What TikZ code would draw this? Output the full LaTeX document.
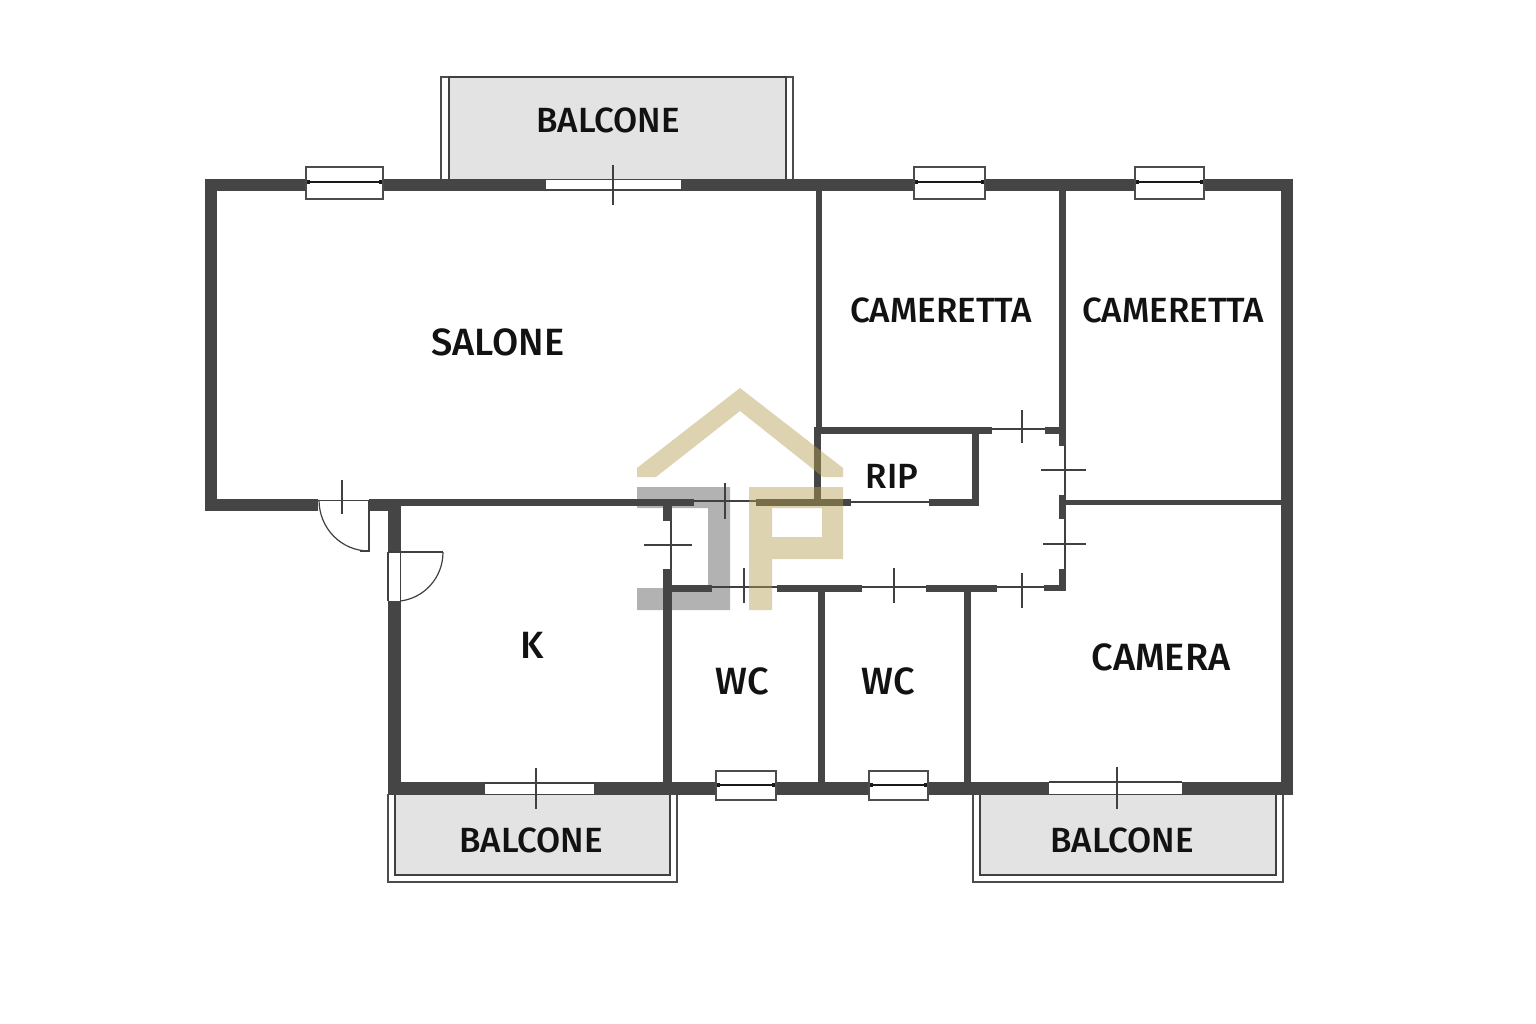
\documentclass[tikz,border=0pt]{standalone}
\usepackage{fontspec}
\setmainfont{Fira Sans Medium}
\usetikzlibrary{arrows.meta}

\begin{document}
\begin{tikzpicture}[x=1pt,y=-1pt]
\tikzstyle{wall}=[fill=black!73]
\tikzstyle{gap}=[fill=white]
\tikzstyle{thin}=[draw=black!75, line width=1.2pt]
\tikzstyle{tick}=[draw=black!75, line width=1.6pt]
\tikzstyle{frame}=[draw=black!70, fill=white, line width=1.3pt]
\tikzstyle{pane}=[draw=black!90, line width=1.2pt, {Square[length=3pt,width=4pt]}-{Square[length=3pt,width=4pt]}]
\tikzstyle{deck}=[fill=black!11, draw=black!75, line width=1.4pt]
\tikzstyle{rail}=[fill=white, draw=black!70, line width=1.2pt]
\tikzstyle{room}=[text=black!93, font=\fontsize{35}{40}\selectfont, inner sep=0pt]
\tikzstyle{big}=[room, font=\fontsize{38}{40}\selectfont]
\tikzstyle{tan}=[fill={rgb,255:red,180;green,158;blue,80}, fill opacity=.45]

\useasboundingbox (0,0) rectangle (1536,1024);
\fill[white] (0,0) rectangle (1536,1024);

% balconies
\draw[rail] (441,179) -- (441,77) -- (793,77) -- (793,179);
\draw[deck] (449,179) -- (449,77) -- (786,77) -- (786,179);
\draw[rail] (388,794) -- (388,882) -- (677,882) -- (677,794);
\draw[deck] (395,794) -- (395,875) -- (670,875) -- (670,794);
\draw[rail] (973,794) -- (973,882) -- (1283,882) -- (1283,794);
\draw[deck] (980,794) -- (980,875) -- (1276,875) -- (1276,794);

% logo, grey part
\fill[black!30] (637,487) -- (730,487) -- (730,610) -- (637,610) -- (637,588) -- (708,588) -- (708,508) -- (637,508) -- cycle;

% outer walls
\fill[wall] (205,179) rectangle (1293,191);
\fill[wall] (205,179) rectangle (217,511);
\fill[wall] (1281,179) rectangle (1293,795);
\fill[wall] (388,782) rectangle (1293,795);
\fill[wall] (205,499) rectangle (318,511);
\fill[wall] (369,499) rectangle (401,511);
\fill[wall] (388,499) rectangle (401,552);
\fill[wall] (388,601) rectangle (401,795);

% inner walls
\fill[wall] (401,499) rectangle (694,506);
\fill[wall] (663,499) rectangle (672,521);
\fill[wall] (663,569) rectangle (672,782);
\fill[wall] (663,585) rectangle (712,592);
\fill[wall] (777,585) rectangle (862,592);
\fill[wall] (818,585) rectangle (825,782);
\fill[wall] (926,585) rectangle (997,592);
\fill[wall] (964,585) rectangle (971,782);
\fill[wall] (1044,585) rectangle (1066,591);
\fill[wall] (1059,569) rectangle (1066,591);
\fill[wall] (1059,495) rectangle (1066,519);
\fill[wall] (1059,500) rectangle (1281,505);
\fill[wall] (1059,191) rectangle (1066,446);
\fill[wall] (1045,427) rectangle (1066,434);
\fill[wall] (816,191) rectangle (822,427);
\fill[wall] (814,427) rectangle (992,434);
\fill[wall] (814,427) rectangle (821,506);
\fill[wall] (972,427) rectangle (979,506);
\fill[wall] (756,499) rectangle (851,506);
\fill[wall] (929,499) rectangle (979,506);

% thin lines in the door openings
\draw[thin] (992,429) -- (1045,429);
\draw[thin] (1065,446) -- (1065,495);
\draw[thin] (1065,519) -- (1065,569);
\draw[thin] (997,587) -- (1044,587);
\draw[thin] (862,587) -- (926,587);
\draw[thin] (712,587) -- (777,587);
\draw[thin] (671,521) -- (671,569);
\draw[thin] (694,501) -- (756,501);
\draw[thin] (851,502) -- (929,502);

% doors
\draw[tick] (1022,410) -- (1022,443);
\draw[tick] (1041,470) -- (1086,470);
\draw[tick] (1043,544) -- (1086,544);
\draw[tick] (1022,573) -- (1022,608);
\draw[tick] (894,568) -- (894,603);
\draw[tick] (744,568) -- (744,603);
\draw[tick] (644,545) -- (692,545);
\draw[tick] (725,483) -- (725,519);

% entrance door
\fill[gap] (318,500) rectangle (369,511);
\draw[thin] (318,500.5) -- (369,500.5);
\draw[thin] (369,500) -- (369,551) -- (360,551);
\draw[thin] (319,500) .. controls (319,528) and (341,551) .. (369,551);
\draw[tick] (342,480) -- (342,514);

% kitchen door
\fill[gap] (389,552) rectangle (400,601);
\draw[thin] (388,552) -- (388,601);
\draw[thin] (388,552) -- (443,552);
\draw[thin] (400.5,552) -- (400.5,601);
\draw[thin] (443,552) .. controls (443,578) and (424,598) .. (400.5,601);

% french windows
\fill[gap] (546,180) rectangle (681,189.5);
\draw[tick] (613,165) -- (613,205);
\fill[gap] (485,783) rectangle (594,794);
\draw[thin] (485,783) -- (594,783);
\draw[thin] (485,794.5) -- (594,794.5);
\draw[tick] (536,768) -- (536,809);
\fill[gap] (1049,783) rectangle (1182,794);
\draw[thin] (1049,782) -- (1182,782);
\draw[tick] (1117,767) -- (1117,809);

% windows
\draw[frame] (306,167) rectangle (383,199);
\draw[pane] (307,182) -- (382,182);
\draw[frame] (914,167) rectangle (985,199);
\draw[pane] (915,182) -- (984,182);
\draw[frame] (1135,167) rectangle (1204,199);
\draw[pane] (1136,182) -- (1203,182);
\draw[frame] (716,771) rectangle (776,800);
\draw[pane] (717,785) -- (775,785);
\draw[frame] (869,771) rectangle (928,800);
\draw[pane] (870,785) -- (927,785);

% logo, roof and P
\fill[tan] (740,388) -- (843,468) -- (843,477) -- (823,477) -- (740,411) -- (656,477) -- (637,477) -- (637,468) -- cycle;
\fill[tan, even odd rule] (749,487) -- (843,487) -- (843,559) -- (772,559) -- (772,610) -- (749,610) -- cycle (772,508) rectangle (822,537);

% labels
\node[room] (balcone1) at (608,120) {BALCONE};
\node[big] (salone) at (498,342) {SALONE};
\node[room] (cameretta1) at (941,310) {CAMERETTA};
\node[room] (cameretta2) at (1173,310) {CAMERETTA};
\node[room] (rip) at (892,476) {RIP};
\node[big] (k) at (532,645) {K};
\node[big] (wc1) at (742,681) {WC};
\node[big] (wc2) at (888,681) {WC};
\node[big] (camera) at (1161,657) {CAMERA};
\node[room] (balcone2) at (531,840) {BALCONE};
\node[room] (balcone3) at (1122,840) {BALCONE};
\end{tikzpicture}
\end{document}
